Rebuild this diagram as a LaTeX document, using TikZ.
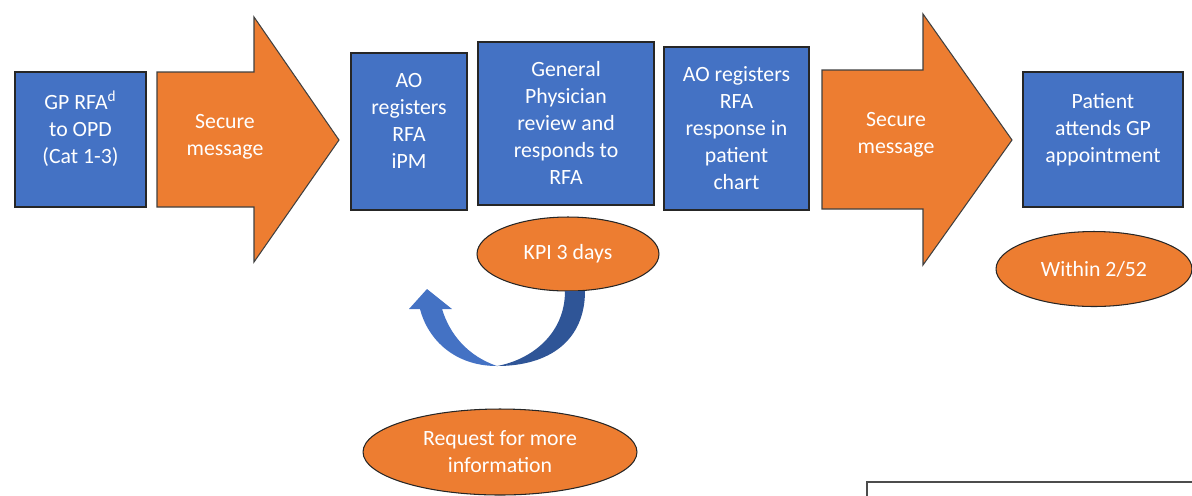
\documentclass[tikz,border=0pt]{standalone}
\usepackage{fontspec}
\setmainfont{Carlito}
\usetikzlibrary{shapes.geometric}
\definecolor{boxblue}{HTML}{4472C4}
\definecolor{darkblue}{HTML}{2F5597}
\definecolor{orng}{HTML}{ED7D31}
\definecolor{txtw}{HTML}{FFFFFF}
\tikzset{
  bluebox/.style={draw=black!85, line width=0.6pt, fill=boxblue, inner sep=0pt},
  orshape/.style={draw=black!75, line width=0.6pt, fill=orng},
  lbl/.style={text=txtw, align=center, font=\fontsize{12.4}{15.4}\selectfont, inner sep=0pt},
  oval/.style={ellipse, draw=black!85, line width=0.6pt, fill=orng, inner sep=0pt, text=txtw, align=center, font=\fontsize{12.4}{15.4}\selectfont},
}
\begin{document}
\begin{tikzpicture}[x=0.02cm, y=-0.02cm]
\useasboundingbox (0,0) rectangle (1192,495);
\clip (0,0) rectangle (1192,495);
% blue boxes
\draw[bluebox] (15,72) rectangle (146,207);
\node[lbl] (t1) at (80.5,129) {GP RFA\textsuperscript{d}\\to OPD\\(Cat 1-3)};
\draw[bluebox] (351,53) rectangle (467,210);
\node[lbl] (t2) at (409,121) {AO\\registers\\RFA\\iPM};
\draw[bluebox] (478,42) rectangle (654,205);
\node[lbl] (t3) at (566,123) {General\\Physician\\review and\\responds to\\RFA};
\draw[bluebox] (664,47) rectangle (809,210);
\node[lbl] (t4) at (736.5,128) {AO registers\\RFA\\response in\\patient\\chart};
\draw[bluebox] (1023,72) rectangle (1183,207);
\node[lbl] (t5) at (1103,129.5) {Patient\\attends GP\\appointment};
% orange arrows
\draw[orshape] (157,72) -- (254,72) -- (254,17) -- (339,140) -- (254,262) -- (254,207) -- (157,207) -- cycle;
\node[lbl] (s1) at (225,137) {Secure\\message};
\draw[orshape] (822,70) -- (923,70) -- (923,14) -- (1012,140) -- (923,265) -- (923,209) -- (822,209) -- cycle;
\node[lbl] (s2) at (896,135) {Secure\\message};
% ovals
\node[oval, minimum width=3.64cm, minimum height=1.48cm] (kpi) at (568,254) {KPI 3 days};
\node[oval, minimum width=3.92cm, minimum height=1.5cm] (within) at (1094,269) {Within 2/52};
\node[oval, minimum width=5.48cm, minimum height=1.72cm] (req) at (500,452) {Request for more\\information};
% curved arrow
\fill[darkblue] (565,291) -- (585,291) .. controls (585,340) and (550,366) .. (497,366)
  .. controls (530,360) and (565,335) .. (565,291) -- cycle;
\fill[boxblue] (497,366) .. controls (455,366) and (428,340) .. (420,309)
  -- (409,309) -- (427,289) -- (452,309) -- (442,309)
  .. controls (450,335) and (468,356) .. (497,366) -- cycle;
% bottom-right frame
\draw[draw=black!70, line width=0.8pt] (867,482) rectangle (1200,520);
\end{tikzpicture}
\end{document}
